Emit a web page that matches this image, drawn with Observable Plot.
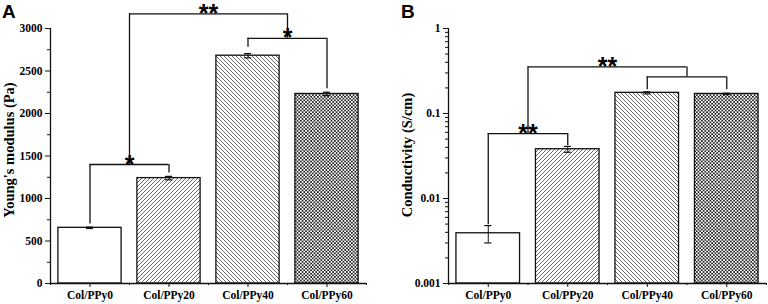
<!DOCTYPE html>
<html><head><meta charset="utf-8">
<script src="https://cdn.jsdelivr.net/npm/d3@7"></script>
<script src="https://cdn.jsdelivr.net/npm/@observablehq/plot@0.6"></script>
<style>
body{margin:0;background:#fff;}
#wrap{position:relative;width:768px;height:304px;display:flex;overflow:hidden;}
.plab{position:absolute;top:2px;font:bold 19px/19px "Liberation Sans",Arial,sans-serif;color:#000;}
</style></head>
<body>
<svg width="0" height="0" style="position:absolute">
  <defs>
    <pattern id="hatchF" patternUnits="userSpaceOnUse" width="4" height="4">
      <rect width="4" height="4" fill="#fff"/>
      <path d="M-1,1 L1,-1 M0,4 L4,0 M3,5 L5,3" stroke="#333" stroke-width="0.75"/>
    </pattern>
    <pattern id="hatchB" patternUnits="userSpaceOnUse" width="4" height="4">
      <rect width="4" height="4" fill="#fff"/>
      <path d="M-1,3 L1,5 M0,0 L4,4 M3,-1 L5,1" stroke="#333" stroke-width="0.75"/>
    </pattern>
    <pattern id="cross" patternUnits="userSpaceOnUse" width="3.4" height="3.4">
      <rect width="3.4" height="3.4" fill="#fff"/>
      <path d="M-1,1 L1,-1 M0,3.4 L3.4,0 M2.4,4.4 L4.4,2.4 M-1,2.4 L1,4.4 M0,0 L3.4,3.4 M2.4,-1 L4.4,1" stroke="#222" stroke-width="0.85"/>
    </pattern>
  </defs>
</svg>
<div id="wrap">
  <div class="plab" style="left:2px">A</div>
  <div class="plab" style="left:401px">B</div>
</div>
<script>
const groups = ["Col/PPy0", "Col/PPy20", "Col/PPy40", "Col/PPy60"];
const modulus = [655, 1240, 2680, 2230];
const modulusErr = [8, 20, 25, 20];
const conductivity = [0.0039, 0.038, 0.175, 0.17];
const conductivityErr = [0.0009, 0.003, 0.005, 0.003];
const fills = ["#fff", "url(#hatchF)", "url(#hatchB)", "url(#cross)"];
const modulusTicks = [0, 500, 1000, 1500, 2000, 2500, 3000];
const modulusMinor = [250, 750, 1250, 1750, 2250, 2750];
const condTicks = [0.001, 0.01, 0.1, 1];
const condMinor = [0.002,0.003,0.004,0.005,0.006,0.007,0.008,0.009,
                   0.02,0.03,0.04,0.05,0.06,0.07,0.08,0.09,
                   0.2,0.3,0.4,0.5,0.6,0.7,0.8,0.9];
const modulusBrackets = [
  {x1: 0, x2: 1, y: 1400, e1: 700, e2: 1300, label: "*"},
  {x1: 2, x2: 3, y: 2885, e1: 2780, e2: 2290, label: "*"},
  {x1: 0.5, x2: 2.5, y: 3173, e1: 1400, e2: 2885, label: "**"}
];
const condBrackets = [
  {x1: 0, x2: 1, y: 0.058, e1: 0.0049, e2: 0.042, label: "**"},
  {x1: 2, x2: 3, y: 0.269, e1: 0.19, e2: 0.19, label: ""},
  {x1: 0.5, x2: 2.5, y: 0.353, e1: 0.058, e2: 0.269, label: "**"}
];

const idx = groups.map((_, i) => i);
const serif = '"Liberation Serif","Times New Roman",serif';
const sans = '"Liberation Sans",Arial,sans-serif';

function panel({values, errs, brackets, yOpts, yBase, yTop, ticks, minor, tickFormat, label, labelDy, marginLeft, marginRight}) {
  return Plot.plot({
    width: 384, height: 304,
    marginTop: 28, marginBottom: 21, marginLeft, marginRight,
    style: {fontFamily: serif, fontWeight: "bold", fontSize: "11.5px", color: "#000", background: "#fff", overflow: "visible"},
    x: {domain: [-0.5, 3.5], label: null},
    y: {...yOpts, label: null},
    color: {type: "identity"},
    marks: [
      Plot.rectY(idx, {x1: i => i - 0.4, x2: i => i + 0.4, y1: () => yBase, y2: i => values[i], fill: i => fills[i], stroke: "#111", strokeWidth: 1.3}),
      Plot.ruleX(idx, {x: i => i, y1: i => values[i] - errs[i], y2: i => values[i] + errs[i], stroke: "#111", strokeWidth: 1}),
      Plot.ruleY(idx, {x1: i => i - 0.045, x2: i => i + 0.045, y: i => values[i] + errs[i], stroke: "#111", strokeWidth: 1.2}),
      Plot.ruleY(idx, {x1: i => i - 0.045, x2: i => i + 0.045, y: i => values[i] - errs[i], stroke: "#111", strokeWidth: 1.2}),
      Plot.ruleY(brackets, {x1: "x1", x2: "x2", y: "y", stroke: "#111", strokeWidth: 1.3}),
      Plot.ruleX(brackets, {x: "x1", y1: "y", y2: "e1", stroke: "#111", strokeWidth: 1.3}),
      Plot.ruleX(brackets, {x: "x2", y1: "y", y2: "e2", stroke: "#111", strokeWidth: 1.3}),
      Plot.text(brackets, {x: d => (d.x1 + d.x2) / 2, y: "y", text: "label", lineAnchor: "bottom", dy: 8, fontFamily: sans, fontWeight: "bold", fontSize: 25, fill: "#000"}),
      Plot.ruleX([-0.5], {y1: yBase, y2: yTop, stroke: "#111", strokeWidth: 1.3}),
      Plot.ruleY([yBase], {x1: -0.5, x2: 3.5, stroke: "#111", strokeWidth: 1.3}),
      Plot.axisY({ticks, tickFormat, tickSize: 5, tickPadding: 3, label: null, stroke: "#111"}),
      Plot.axisY({ticks: minor, tickFormat: () => "", tickSize: 3, tickPadding: 0, label: null, stroke: "#111"}),
      Plot.axisX({ticks: [0, 1, 2, 3], tickFormat: i => groups[i], tickSize: 4, tickPadding: 3, label: null, stroke: "#111"}),
      Plot.axisX({ticks: [-0.5, 0.5, 1.5, 2.5, 3.5], tickFormat: () => "", tickSize: 2, tickPadding: 0, label: null, stroke: "#111"}),
      Plot.text([label], {frameAnchor: "left", textAnchor: "middle", lineAnchor: "middle", rotate: -90, dx: -41, dy: labelDy, fontSize: 14.5, fontWeight: "bold", fontFamily: serif, fill: "#000"})
    ]
  });
}

const wrap = document.getElementById("wrap");
const a = panel({
  values: modulus, errs: modulusErr, brackets: modulusBrackets,
  yOpts: {type: "linear", domain: [0, 3000]}, yBase: 0, yTop: 3000,
  ticks: modulusTicks, minor: modulusMinor, tickFormat: d => String(d),
  label: "Young's modulus (Pa)", labelDy: -6, marginLeft: 50, marginRight: 18
});
const b = panel({
  values: conductivity, errs: conductivityErr, brackets: condBrackets,
  yOpts: {type: "log", domain: [0.001, 1]}, yBase: 0.001, yTop: 1,
  ticks: condTicks, minor: condMinor, tickFormat: d => String(d),
  label: "Conductivity (S/cm)", labelDy: -1, marginLeft: 64, marginRight: 2
});
wrap.prepend(b);
wrap.prepend(a);
</script>
</body></html>
